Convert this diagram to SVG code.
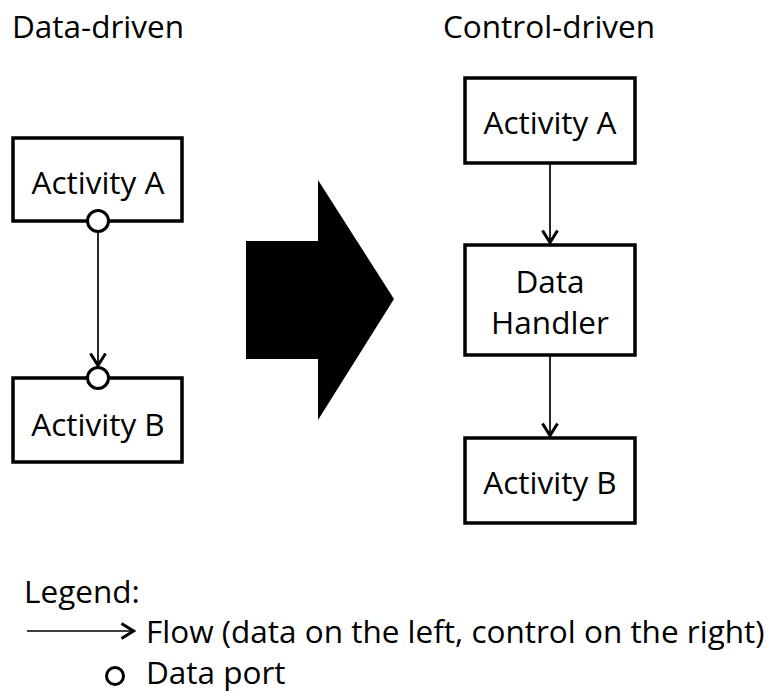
<svg xmlns="http://www.w3.org/2000/svg" width="773" height="693" viewBox="0 0 773 693">
<style>
text{font-family:"Open Sans","Liberation Sans",sans-serif;font-size:31.5px;fill:#000}
.box{fill:#fff;stroke:#000;stroke-width:3.5}
.port{fill:#fff;stroke:#000;stroke-width:3}
.edge{stroke:#000;stroke-width:1.7;fill:none}
.c{text-anchor:middle}
</style>
<defs>
<marker id="ah" viewBox="0 0 16 20" refX="14" refY="10" markerWidth="16" markerHeight="20" markerUnits="userSpaceOnUse" orient="auto">
<path d="M1.5,2.5 L13.5,10 L1.5,17.5" fill="none" stroke="#000" stroke-width="3"/>
</marker>
</defs>
<rect width="773" height="693" fill="#fff"/>
<text x="12" y="38">Data-driven</text>
<text x="443" y="38">Control-driven</text>
<g id="connectors">
<line class="edge" x1="98" y1="233" x2="98" y2="366" marker-end="url(#ah)"/>
<line class="edge" x1="550" y1="163" x2="550" y2="243" marker-end="url(#ah)"/>
<line class="edge" x1="550" y1="355" x2="550" y2="436" marker-end="url(#ah)"/>
</g>
<g id="left-activity-a">
<rect class="box" x="13" y="138" width="169" height="83"/>
<text class="c" x="98" y="194">Activity A</text>
<circle class="port" cx="98" cy="221" r="10.5"/>
</g>
<g id="left-activity-b">
<rect class="box" x="13" y="378" width="169" height="84"/>
<text class="c" x="98" y="436">Activity B</text>
<circle class="port" cx="98" cy="378" r="10.5"/>
</g>
<g id="big-arrow">
<polygon points="246,241 318,241 318,180 394,299 318,420 318,359 246,359" fill="#000"/>
</g>
<g id="right-activity-a">
<rect class="box" x="465" y="78" width="170" height="85"/>
<text class="c" x="550" y="134">Activity A</text>
</g>
<g id="data-handler">
<rect class="box" x="465" y="245" width="170" height="110"/>
<text class="c" x="550" y="293">Data</text>
<text class="c" x="550" y="334">Handler</text>
</g>
<g id="right-activity-b">
<rect class="box" x="465" y="438" width="170" height="85"/>
<text class="c" x="550" y="494">Activity B</text>
</g>
<g id="legend">
<text x="24" y="603">Legend:</text>
<line class="edge" x1="27" y1="631" x2="134" y2="631" marker-end="url(#ah)"/>
<text x="146" y="643">Flow (data on the left, control on the right)</text>
<circle class="port" cx="115" cy="676" r="8.5"/>
<text x="146" y="684">Data port</text>
</g>
</svg>
